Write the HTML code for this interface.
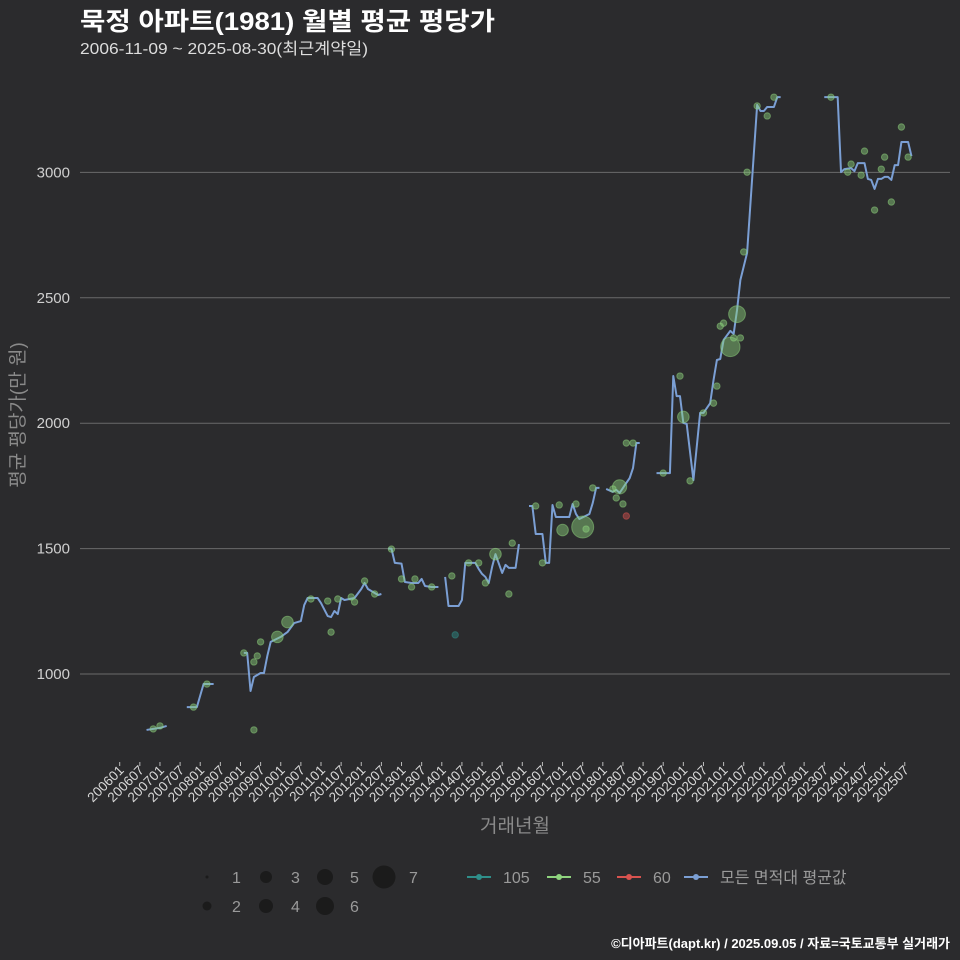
<!DOCTYPE html>
<html><head><meta charset="utf-8">
<style>
html,body{margin:0;padding:0;background:#2b2b2d;}
svg{display:block;font-family:"Liberation Sans","Noto Sans CJK KR",sans-serif;}
</style></head>
<body>
<svg id="chart" width="960" height="960" viewBox="0 0 960 960">
<rect x="0" y="0" width="960" height="960" fill="#2b2b2d"/>
<text x="80" y="30" fill="#ffffff" font-size="25" font-weight="bold" textLength="415" lengthAdjust="spacingAndGlyphs">묵정 아파트(1981) 월별 평균 평당가</text>
<text x="80" y="54" fill="#dddddd" font-size="16" textLength="288" lengthAdjust="spacingAndGlyphs">2006-11-09 ~ 2025-08-30(최근계약일)</text>
<g id="grid"></g>
<g id="yticks"></g>
<g id="xticks"></g>
<g id="lines"></g>
<g id="points"></g>
<text x="515" y="832" fill="#8a8a8a" font-size="19" text-anchor="middle">거래년월</text>
<text transform="translate(24,415) rotate(-90)" fill="#8a8a8a" font-size="19" text-anchor="middle">평균 평당가(만 원)</text>
<g id="legend"></g>
<text x="950" y="948" fill="#ffffff" font-size="13" font-weight="bold" text-anchor="end">©디아파트(dapt.kr) / 2025.09.05 / 자료=국토교통부 실거래가</text>
</svg>
<script>
// month index = months since 2006-01
const yTicks = [1000, 1500, 2000, 2500, 3000];
const xTickLabels = ["200601","200607","200701","200707","200801","200807","200901","200907","201001","201007","201101","201107","201201","201207","201301","201307","201401","201407","201501","201507","201601","201607","201701","201707","201801","201807","201901","201907","202001","202007","202101","202107","202201","202207","202301","202307","202401","202407","202501","202507"];
const lineSeg1 = [[8,777],[10,781],[12,785],[14,793]];
const lineSeg2 = [[20,868],[23,868],[25,960],[28,960]];
const lineSeg3 = [[37,1084],[38,1084],[39,932],[40,988],[42,1004],[43,1004],[44,1072],[45,1128],[48,1148],[50,1167],[52,1203],[54,1211],[55,1275],[56,1303],[59,1303],[60,1283],[62,1231],[63,1227],[64,1251],[65,1239],[66,1303],[67,1295],[70,1303],[72,1339],[73,1363],[74,1339],[76,1323],[77,1315],[78,1319]];
const lineSeg4 = [[80,1500],[81,1500],[82,1443],[84,1440],[85,1367],[87,1363],[89,1363],[90,1379],[91,1351],[93,1347],[95,1347]];
const lineSeg5 = [[97,1387],[98,1271],[101,1271],[102,1295],[103,1443],[106,1443],[107,1419],[108,1399],[109,1387],[110,1363],[111,1427],[112,1478],[114,1403],[115,1435],[116,1423],[118,1423],[119,1518]];
const lineSeg6 = [[122,1670],[123,1670],[124,1558],[126,1558],[127,1443],[128,1443],[129,1674],[130,1626],[134,1626],[135,1678],[136,1638],[137,1618],[140,1638],[141,1682],[142,1742],[143,1742]];
const lineSeg7 = [[145,1738],[147,1726],[148,1734],[149,1722],[150,1742],[151,1762],[152,1781],[153,1821],[154,1921],[155,1921]];
const lineSeg8 = [[160,1801],[164,1801],[165,2188],[166,2108],[167,2108],[168,2001],[169,1997],[171,1773],[173,2041],[174,2041],[176,2080],[177,2172],[178,2252],[179,2256],[180,2332],[182,2368],[183,2356],[184,2451],[185,2571],[187,2679],[190,3269],[191,3245],[192,3245],[193,3261],[195,3261],[196,3300],[197,3300]];
const lineSeg9 = [[210,3300],[214,3300],[215,3001],[216,3013],[218,3017],[219,3005],[220,3037],[222,3037],[223,2974],[224,2970],[225,2934],[226,2974],[227,2974],[228,2982],[229,2982],[230,2970],[231,3029],[232,3029],[233,3121],[235,3121],[236,3065]];
const lineSegments = [lineSeg1,lineSeg2,lineSeg3,lineSeg4,lineSeg5,lineSeg6,lineSeg7,lineSeg8,lineSeg9];
// scatter: month, value, count, area type
const ptMonth = [10,12,22,26,37,40,41,40,42,47,50,57,62,63,65,69,70,73,76,81,84,88,87,93,99,100,104,107,109,112,116,117,124,126,131,132,138,139,136,141,148,149,150,151,151,153,147,162,167,168,170,174,177,178,179,180,183,185,182,184,186,187,190,193,195,212,217,218,221,222,225,227,228,230,233,235];
const ptValue = [781,793,868,960,1084,777,1072,1048,1128,1148,1207,1299,1291,1167,1299,1307,1287,1371,1319,1498,1379,1379,1347,1347,1391,1156,1443,1443,1363,1478,1319,1522,1670,1443,1674,1574,1586,1578,1678,1742,1702,1746,1678,1630,1921,1921,1738,1801,2188,2025,1770,2041,2080,2148,2387,2399,2340,2340,2304,2435,2683,3001,3265,3225,3300,3300,3001,3033,2989,3085,2850,3013,3061,2882,3181,3061];
const ptCount = [1,1,1,1,1,1,1,1,1,3,3,1,1,1,1,1,1,1,1,1,1,1,1,1,1,1,1,1,1,3,1,1,1,1,1,3,7,1,1,1,1,4,1,1,1,1,1,1,1,3,1,1,1,1,1,1,1,1,6,5,1,1,1,1,1,1,1,1,1,1,1,1,1,1,1,1];
const ptType = ["55","55","55","55","55","55","55","55","55","55","55","55","55","55","55","55","55","55","55","55","55","55","55","55","55","105","55","55","55","55","55","55","55","55","55","55","55","55","55","55","55","55","55","60","55","55","55","55","55","55","55","55","55","55","55","55","55","55","55","55","55","55","55","55","55","55","55","55","55","55","55","55","55","55","55","55"];
const legendSizes = [1,2,3,4,5,6,7];
const legendAreas = ["105","55","60","모든 면적대 평균값"];

const NS="http://www.w3.org/2000/svg";
const X0=119.7, DX=3.355, Y0=674, DY=0.2508;
function xs(m){return X0+m*DX;}
function ys(v){return Y0-(v-1000)*DY;}
function el(tag,attrs,parent){const e=document.createElementNS(NS,tag);for(const k in attrs)e.setAttribute(k,attrs[k]);parent.appendChild(e);return e;}
const colors={"105":"#2f8f8a","55":"#8fd47e","60":"#d9534f","avg":"#7b9fd4"};

const grid=document.getElementById('grid'), yg=document.getElementById('yticks');
yTicks.forEach(v=>{
  const l=el('line',{x1:80,x2:950,y1:ys(v),y2:ys(v),stroke:'#6b6b6b','stroke-width':1},grid);
  
  
  const t=el('text',{x:70,y:ys(v)+5,fill:'#cfcfcf','font-size':15,'text-anchor':'end'},yg);
  t.textContent=v;
  
  
});
const xg=document.getElementById('xticks');
xTickLabels.forEach((lab,i)=>{
  const x=xs(i*6);
  const tk=el('line',{x1:x,x2:x,y1:762,y2:766,stroke:'#bbbbbb','stroke-width':1},xg);
  
  
  const t=el('text',{transform:`translate(${x+5},${771}) rotate(-45)`,fill:'#d8d8d8','font-size':13.5,'text-anchor':'end'},xg);
  t.textContent=lab;
  
  
});
const lg=document.getElementById('lines');
lineSegments.forEach(seg=>{
  const p=el('polyline',{points:seg.map(d=>xs(d[0])+','+ys(d[1])).join(' '),fill:'none',stroke:colors.avg,'stroke-width':2,'stroke-linejoin':'round'},lg);
  
  
});
function rad(n){return 3.2+(n-1)*1.3;}
const pg=document.getElementById('points');
ptMonth.forEach((m,i)=>{
  const c=colors[ptType[i]];
  const ci=el('circle',{cx:xs(m),cy:ys(ptValue[i]),r:rad(ptCount[i]),fill:c,'fill-opacity':0.45,stroke:c,'stroke-opacity':0.5,'stroke-width':1},pg);
  
  
});
const leg=document.getElementById('legend');
const lr=[1.5,4.5,6,7,8,9,11.5];
legendSizes.forEach((n,i)=>{
  const col=Math.floor(i/2), row=i%2;
  const cx=207+col*59, cy=row? 906:877;
  const c=el('circle',{cx:cx,cy:cy,r:lr[i],fill:'#1b1b1b'},leg);
  
  
  const t=el('text',{x:cx+25,y:cy+6,fill:'#9a9a9a','font-size':16},leg);
  t.textContent=n;
  
  
});
const lx=[467,547,617,684], lc=[colors["105"],colors["55"],colors["60"],colors.avg];
legendAreas.forEach((a,i)=>{
  const g=el('g',{},leg);
  
  
  el('line',{x1:lx[i],x2:lx[i]+24,y1:877,y2:877,stroke:lc[i],'stroke-width':2},g);
  el('circle',{cx:lx[i]+12,cy:877,r:3,fill:lc[i]},g);
  const t=el('text',{x:lx[i]+36,y:883,fill:'#9a9a9a','font-size':16},g);
  t.textContent=a;
});
</script>
</body></html>
